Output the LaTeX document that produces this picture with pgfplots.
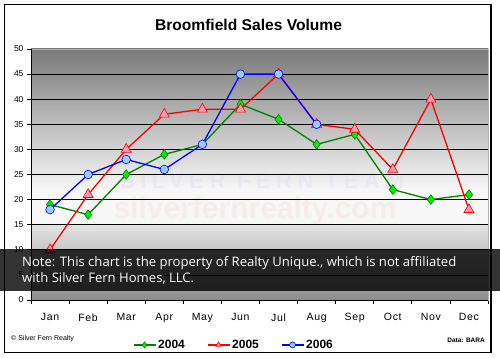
\documentclass[border=0pt]{standalone}
\usepackage{fontspec}
\setmainfont{Liberation Sans}
\newfontfamily\notefont{Open Sans}
\usepackage{pgfplots}
\pgfplotsset{compat=1.18}
\definecolor{g04}{HTML}{008000}
\definecolor{g04f}{HTML}{00EE00}
\definecolor{r05}{HTML}{FF0000}
\definecolor{r05f}{HTML}{F49AB4}
\definecolor{b06}{HTML}{0000FF}
\definecolor{b06f}{HTML}{99CCFF}
\definecolor{bgtop}{HTML}{7A7A7A}
\definecolor{bgmid}{HTML}{F7F7F7}
\definecolor{bglow1}{HTML}{E4E4E4}
\definecolor{bglow2}{HTML}{8C8C8C}
\begin{document}
\begin{tikzpicture}[x=1pt,y=1pt]
\useasboundingbox (0,0) rectangle (500,357);
\fill[white] (0,0) rectangle (500,357);
\draw[black, line width=1.2pt] (4.5,4.5) rectangle (491,352.5);
% plot background
\shade[top color=bgtop, bottom color=bgmid] (31,167.4) rectangle (488,308);
\fill[bgmid] (31,132.3) rectangle (488,167.4);
\shade[top color=bglow1, bottom color=bglow2] (31,57) rectangle (488,132.3);
% watermarks
\node[text=blue!50!white, opacity=0.07, font=\bfseries\fontsize{22}{22}\selectfont\addfontfeature{LetterSpace=25}] at (262,176) {SILVER FERN TEAM};
\node[text=red!60!white, opacity=0.07, font=\bfseries\fontsize{30}{30}\selectfont] at (255,146) {silverfernrealty.com};
% title
\node[font=\bfseries\fontsize{15.6}{16}\selectfont, anchor=base] at (248.5,326) {Broomfield Sales Volume};
\begin{axis}[
  at={(31pt,57pt)}, anchor=south west, scale only axis,
  width=457pt, height=251pt,
  xmin=-0.5, xmax=11.5, ymin=0, ymax=50,
  xtick={-0.5,0.5,...,11.5}, xticklabels={},
  extra x ticks={0,1,2,3,4,5,6,7,8,9,10,11},
  extra x tick labels={Jan,Feb,Mar,Apr,May,Jun,Jul,Aug,Sep,Oct,Nov,Dec},
  extra x tick style={major tick length=0pt, ticklabel style={font=\fontsize{10.5}{11}\selectfont\addfontfeature{LetterSpace=6}, yshift=-10pt}},
  ytick={0,5,...,50},
  xtick pos=bottom, ytick pos=left,
  tick align=outside, major tick length=4pt,
  every tick/.style={black, line width=0.8pt},
  yticklabel style={font=\fontsize{8.5}{9}\selectfont},
  /pgf/number format/assume math mode=true,
  ymajorgrids, major grid style={black, line width=0.8pt},
  axis line style={gray!60},
  legend style={at={(0.444,-0.179)}, anchor=center, draw=none, fill=none,
    legend columns=3, font=\bfseries\fontsize{12}{12}\selectfont,
    /tikz/every even column/.append style={column sep=20pt}},
  legend image code/.code={\draw[mark repeat=2, mark phase=2, #1, mark size=3pt] plot coordinates {(0pt,0pt) (11pt,0pt) (22pt,0pt)};},
]
\addplot[g04, line width=1.3pt, mark=diamond*, mark size=4.8pt, mark options={fill=g04f, draw=g04, line width=0.6pt, solid}]
  coordinates {(0,19) (1,17) (2,25) (3,29) (4,31) (5,39) (6,36) (7,31) (8,33) (9,22) (10,20) (11,21)};
\addlegendentry{2004}
\addplot[r05, line width=1.3pt, mark=triangle*, mark size=5.8pt, mark options={fill=r05f, draw=r05, line width=0.6pt, solid}]
  coordinates {(0,10) (1,21) (2,30) (3,37) (4,38) (5,38) (6,45) (7,35) (8,34) (9,26) (10,40) (11,18)};
\addlegendentry{2005}
\addplot[b06, line width=1.3pt, mark=*, mark size=4.3pt, mark options={fill=b06f, draw=b06, line width=0.6pt, solid}]
  coordinates {(0,18) (1,25) (2,28) (3,26) (4,31) (5,45) (6,45) (7,35)};
\addlegendentry{2006}
\end{axis}
\draw[black, line width=1pt] (31,308) -- (31,57) -- (488,57);
% note band
\fill[black, opacity=0.8] (0,66) rectangle (500,108);
\node[anchor=base west, text=white, inner sep=0pt, font=\notefont\fontsize{13.1}{13}\selectfont] at (22,91) {Note: This chart is the property of Realty Unique., which is not affiliated};
\node[anchor=base west, text=white, inner sep=0pt, font=\notefont\fontsize{13.1}{13}\selectfont] at (22,75) {with Silver Fern Homes, LLC.};
% footer
\node[anchor=base west, inner sep=0pt, font=\fontsize{7}{7}\selectfont] at (11,17) {\textcopyright\ Silver Fern Realty};
\node[anchor=base east, inner sep=0pt, font=\bfseries\fontsize{6.5}{7}\selectfont] at (485,15) {Data: BARA};
\end{tikzpicture}
\end{document}
